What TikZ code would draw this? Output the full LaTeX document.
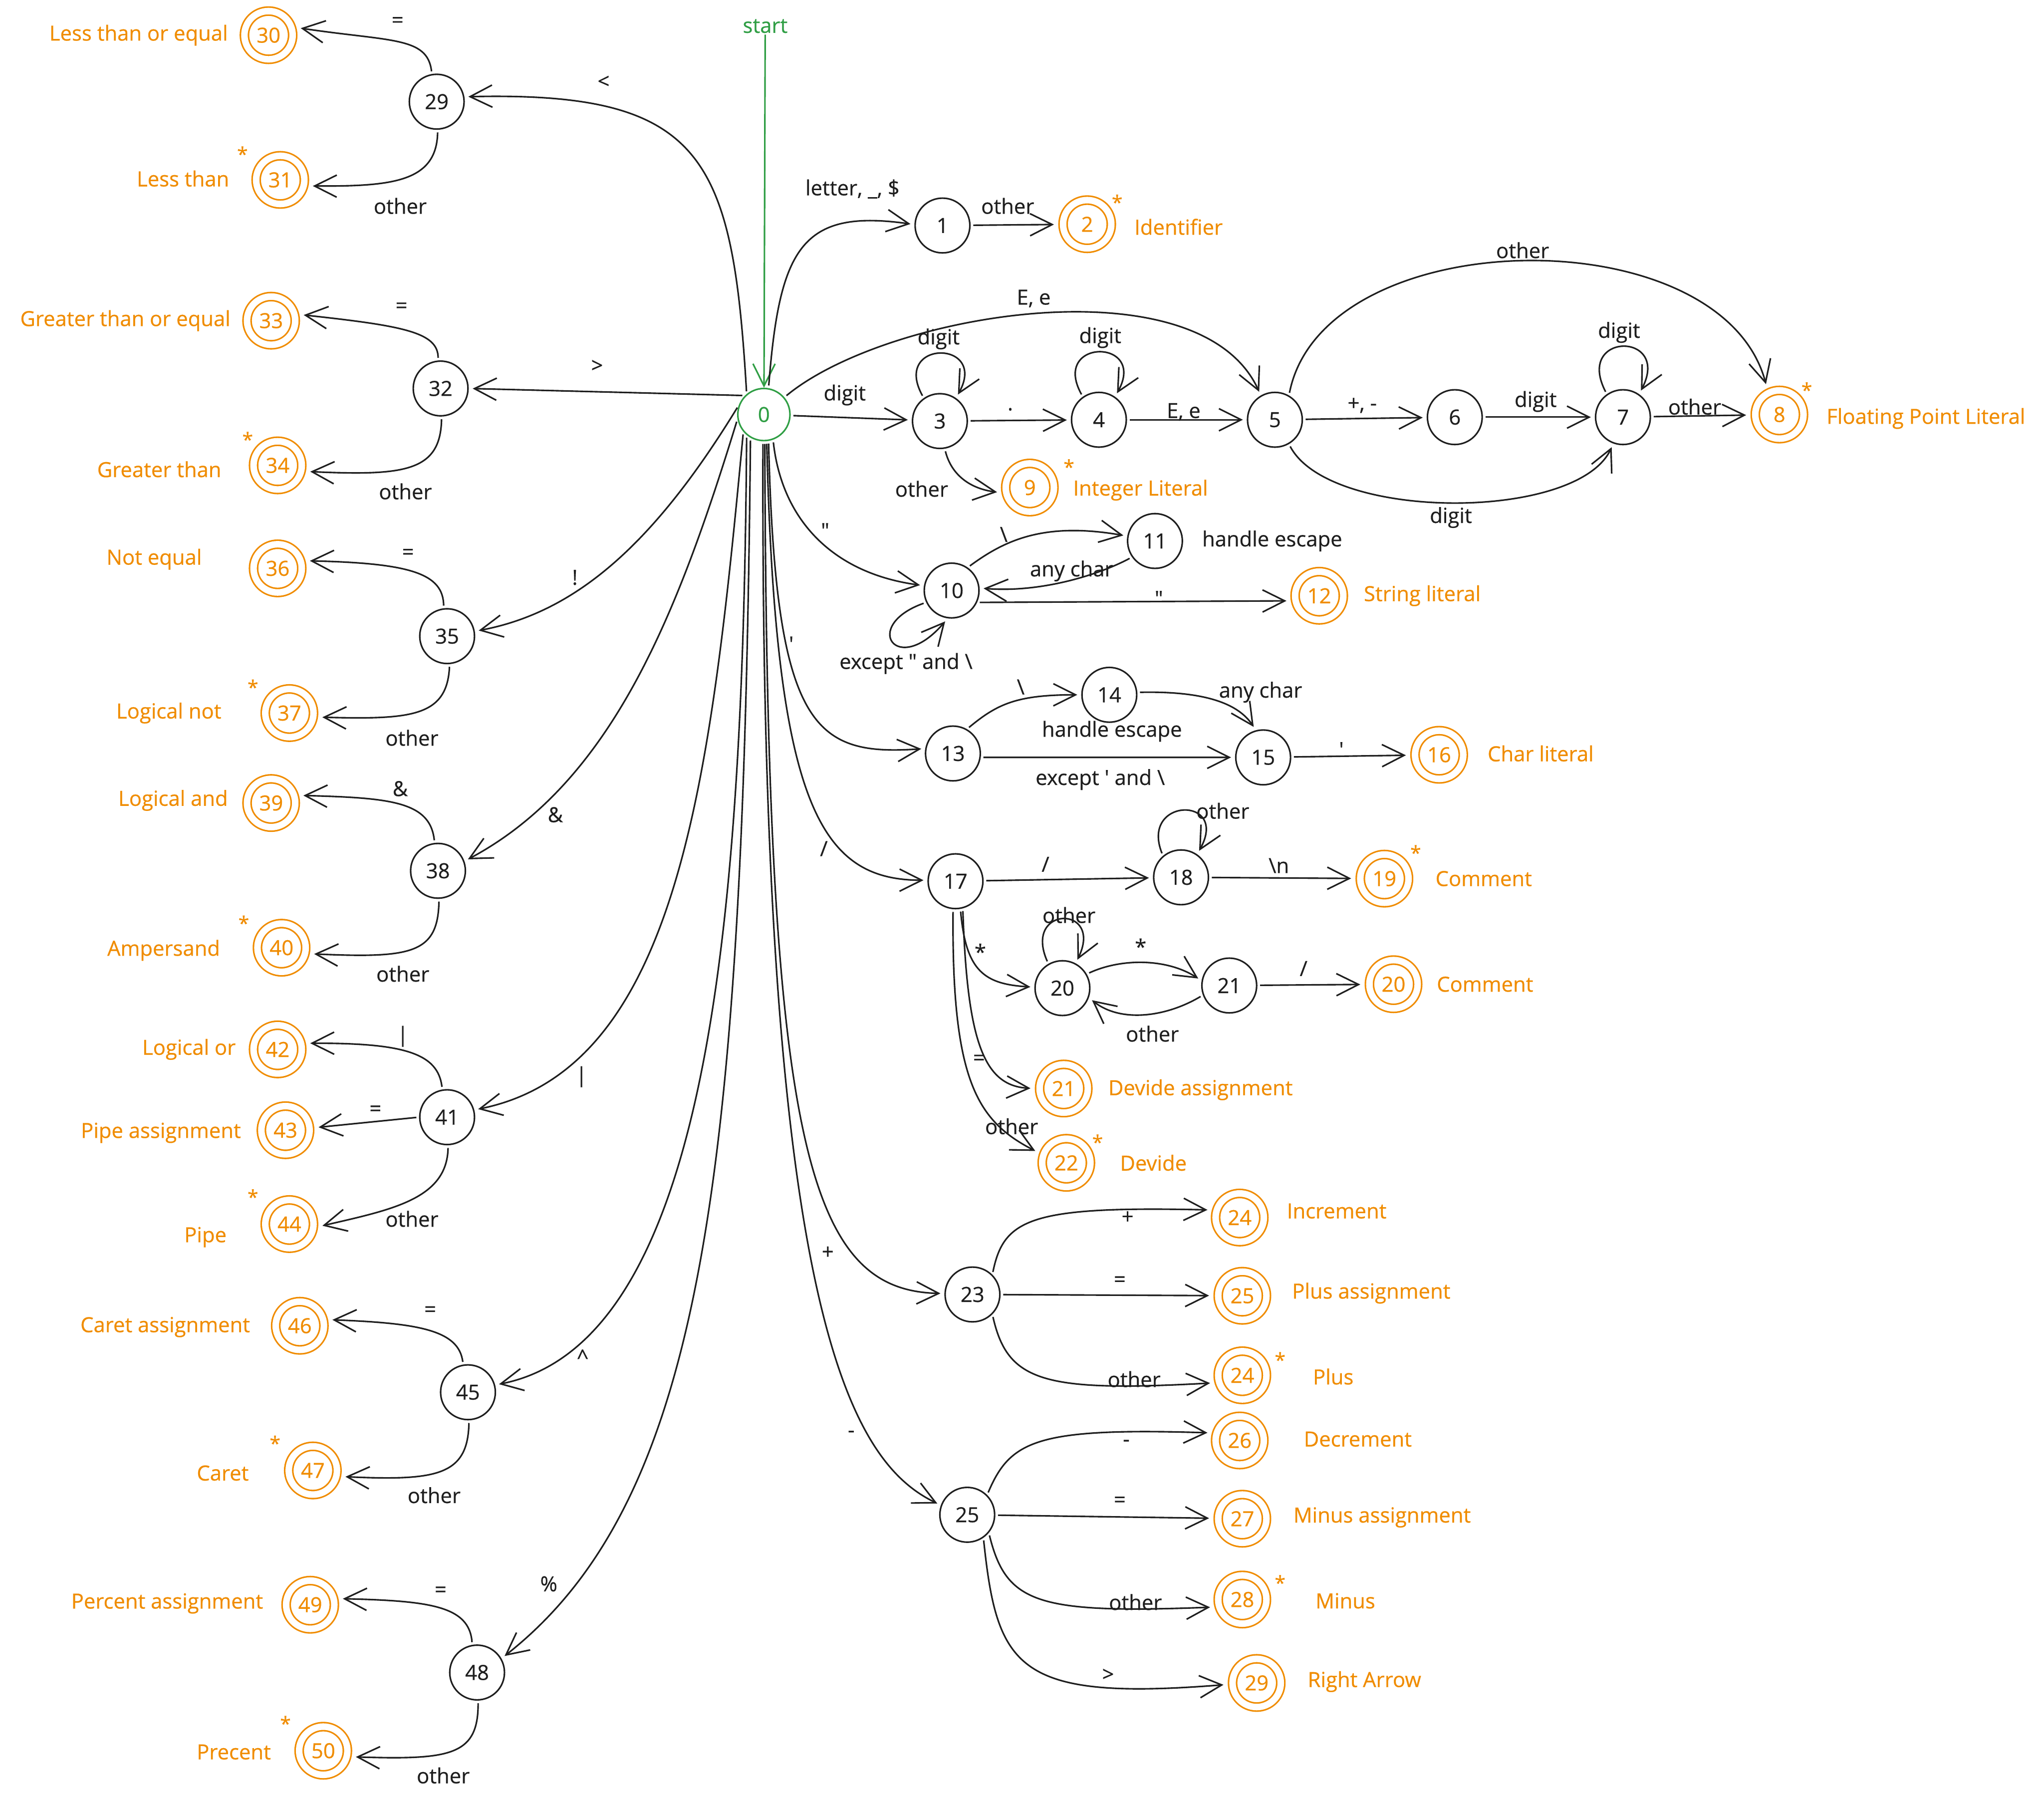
\documentclass[tikz,border=0pt]{standalone}
\usepackage{fontspec}
\newfontfamily\lblfont[FakeBold=0.5]{Open Sans}
\usetikzlibrary{arrows.meta}
\definecolor{ink}{HTML}{1E1E1E}
\definecolor{orng}{HTML}{F08C00}
\definecolor{grn}{HTML}{2F9E44}
\newcommand\fsz{\lblfont\fontsize{16}{18}\selectfont}
\tikzset{
  st/.style={circle, draw=ink, line width=1.2pt, minimum size=42pt, inner sep=0pt, text=ink, font=\fsz},
  acc/.style={circle, draw=orng, double=white, double distance=5pt, line width=1.2pt, minimum size=37pt, inner sep=0pt, outer sep=4pt, text=orng, font=\fsz},
  arr/.style={draw=ink, line width=1.2pt, -{Straight Barb[length=17pt,width=17pt]}, shorten >=3pt, shorten <=2pt},
  garr/.style={draw=grn, line width=1.2pt, -{Straight Barb[length=17pt,width=17pt]}},
  lb/.style={text=ink, font=\fsz, inner sep=1pt},
  ol/.style={text=orng, font=\fsz, inner sep=1pt},
  sr/.style={text=orng, font=\lblfont\fontsize{15}{16}\selectfont, inner sep=0pt},
}
\begin{document}
\begin{tikzpicture}[x=1pt,y=1pt]
\useasboundingbox (0,0) rectangle (1568,-1380);
\fill[white] (0,0) rectangle (1568,-1380);

% ---------- states ----------
\node[st, draw=grn, text=grn, minimum size=40pt] (n0) at (586,-318) {0};
\node[text=grn, font=\fsz, inner sep=1pt] (start) at (587,-20) {start};

\node[st] (n29) at (335,-78) {29};
\node[acc] (a30) at (206,-27) {30};
\node[acc] (a31) at (215,-138) {31};
\node[st] (n32) at (338,-298) {32};
\node[acc] (a33) at (208,-246) {33};
\node[acc] (a34) at (213,-357) {34};
\node[st] (n35) at (343,-488) {35};
\node[acc] (a36) at (213,-436) {36};
\node[acc] (a37) at (222,-547) {37};
\node[st] (n38) at (336,-668) {38};
\node[acc] (a39) at (208,-616) {39};
\node[acc] (a40) at (216,-727) {40};
\node[st] (n41) at (343,-857) {41};
\node[acc] (a42) at (213,-805) {42};
\node[acc] (a43) at (219,-867) {43};
\node[acc] (a44) at (222,-939) {44};
\node[st] (n45) at (359,-1068) {45};
\node[acc] (a46) at (230,-1017) {46};
\node[acc] (a47) at (240,-1128) {47};
\node[st] (n48) at (366,-1283) {48};
\node[acc] (a49) at (238,-1231) {49};
\node[acc] (a50) at (248,-1343) {50};

\node[st] (n1) at (723,-173) {1};
\node[acc] (a2) at (834,-172) {2};
\node[st] (n3) at (721,-323) {3};
\node[st] (n4) at (843,-322) {4};
\node[st] (n5) at (978,-322) {5};
\node[st] (n6) at (1116,-320) {6};
\node[st] (n7) at (1245,-320) {7};
\node[acc] (a8) at (1365,-318) {8};
\node[acc] (a9) at (790,-374) {9};
\node[st] (n10) at (730,-453) {10};
\node[st] (n11) at (886,-415) {11};
\node[acc] (a12) at (1012,-457) {12};
\node[st] (n13) at (731,-578) {13};
\node[st] (n14) at (851,-533) {14};
\node[st] (n15) at (969,-581) {15};
\node[acc] (a16) at (1104,-579) {16};
\node[st] (n17) at (733,-676) {17};
\node[st] (n18) at (906,-673) {18};
\node[acc] (a19) at (1062,-674) {19};
\node[st] (n20) at (815,-758) {20};
\node[st] (n21) at (943,-756) {21};
\node[acc] (a20b) at (1069,-755) {20};
\node[acc] (a21) at (816,-835) {21};
\node[acc] (a22) at (818,-892) {22};
\node[st] (n23) at (746,-993) {23};
\node[acc] (a24) at (951,-934) {24};
\node[acc] (a25) at (953,-994) {25};
\node[acc] (a24b) at (953,-1055) {24};
\node[st] (n25) at (742,-1162) {25};
\node[acc] (a26) at (951,-1105) {26};
\node[acc] (a27) at (953,-1165) {27};
\node[acc] (a28) at (953,-1227) {28};
\node[acc] (a29) at (964,-1291) {29};

% ---------- stars ----------
\node[sr] (s31) at (186,-118) {*};
\node[sr] (s34) at (190,-337) {*};
\node[sr] (s37) at (194,-527) {*};
\node[sr] (s40) at (187,-708) {*};
\node[sr] (s44) at (194,-918) {*};
\node[sr] (s47) at (211,-1107) {*};
\node[sr] (s50) at (219,-1322) {*};
\node[sr] (s2) at (857,-155) {*};
\node[sr] (s9) at (820,-358) {*};
\node[sr] (s8) at (1386,-299) {*};
\node[sr] (s19) at (1086,-654) {*};
\node[sr] (s22) at (842,-876) {*};
\node[sr] (s24b) at (982,-1043) {*};
\node[sr] (s28) at (982,-1214) {*};

% ---------- orange names ----------
\node[ol, anchor=east] (t30) at (176,-27) {Less than or equal};
\node[ol, anchor=east] (t31) at (177,-137) {Less than};
\node[ol, anchor=east] (t33) at (178,-246) {Greater than or equal};
\node[ol, anchor=east] (t34) at (171,-360) {Greater than};
\node[ol, anchor=east] (t36) at (156,-429) {Not equal};
\node[ol, anchor=east] (t37) at (171,-547) {Logical not};
\node[ol, anchor=east] (t39) at (176,-614) {Logical and};
\node[ol, anchor=east] (t40) at (170,-729) {Ampersand};
\node[ol, anchor=east] (t42) at (182,-805) {Logical or};
\node[ol, anchor=east] (t43) at (186,-869) {Pipe assignment};
\node[ol, anchor=east] (t44) at (175,-949) {Pipe};
\node[ol, anchor=east] (t46) at (193,-1018) {Caret assignment};
\node[ol, anchor=east] (t47) at (192,-1130) {Caret};
\node[ol, anchor=east] (t49) at (203,-1230) {Percent assignment};
\node[ol, anchor=east] (t50) at (209,-1344) {Precent};

\node[ol, anchor=west] (t2) at (869,-174) {Identifier};
\node[ol, anchor=west] (t8) at (1400,-321) {Floating Point Literal};
\node[ol, anchor=west] (t9) at (822,-376) {Integer Literal};
\node[ol, anchor=west] (t12) at (1045,-457) {String literal};
\node[ol, anchor=west] (t16) at (1140,-578) {Char literal};
\node[ol, anchor=west] (t19) at (1100,-674) {Comment};
\node[ol, anchor=west] (t20b) at (1101,-755) {Comment};
\node[ol, anchor=west] (t21) at (849,-836) {Devide assignment};
\node[ol, anchor=west] (t22) at (858,-892) {Devide};
\node[ol, anchor=west] (t24) at (986,-929) {Increment};
\node[ol, anchor=west] (t25) at (990,-992) {Plus assignment};
\node[ol, anchor=west] (t24b) at (1006,-1056) {Plus};
\node[ol, anchor=west] (t26) at (999,-1104) {Decrement};
\node[ol, anchor=west] (t27) at (991,-1164) {Minus assignment};
\node[ol, anchor=west] (t28) at (1008,-1228) {Minus};
\node[ol, anchor=west] (t29) at (1002,-1290) {Right Arrow};

% ---------- start ----------
\draw[garr] (start) -- (n0);

% ---------- left edges from 0 ----------
\draw[arr] (n0.130) .. controls (562,-120) and (540,-70) .. (n29.10);
\draw[arr] (n0.135) -- (n32.east);
\draw[arr] (n0.160) .. controls (500,-420) and (440,-470) .. (n35.10);
\draw[arr] (n0.190) .. controls (520,-470) and (470,-600) .. (n38.20);
\draw[arr] (n0.220) .. controls (545,-600) and (520,-820) .. (n41.15);
\draw[arr] (n0.230) .. controls (570,-700) and (545,-1030) .. (n45.15);
\draw[arr] (n0.240) .. controls (570,-900) and (540,-1150) .. (n48.30);

\node[lb] (l0_29) at (463,-63) {<};
\node[lb] (l0_32) at (458,-281) {>};
\node[lb] (l0_35) at (441,-443) {!};
\node[lb] (l0_38) at (426,-625) {\&};
\node[lb] (l0_41) at (446,-826) {|};
\node[lb] (l0_45) at (447,-1041) {\textasciicircum};
\node[lb] (l0_48) at (421,-1215) {\%};

% ---------- left groups ----------
\draw[arr] (n29.100) .. controls (328,-28) and (300,-32) .. (a30.15);
\draw[arr] (n29.-88) .. controls (335,-140) and (300,-143) .. (a31.-12);
\node[lb] (l29a) at (305,-17) {=};
\node[lb] (l29b) at (307,-158) {other};

\draw[arr] (n32.95) .. controls (336,-255) and (310,-250) .. (a33.12);
\draw[arr] (n32.-88) .. controls (338,-362) and (310,-365) .. (a34.-12);
\node[lb] (l32a) at (308,-236) {=};
\node[lb] (l32b) at (311,-377) {other};

\draw[arr] (n35.97) .. controls (340,-440) and (315,-432) .. (a36.15);
\draw[arr] (n35.-85) .. controls (343,-550) and (315,-552) .. (a37.-8);
\node[lb] (l35a) at (313,-425) {=};
\node[lb] (l35b) at (316,-566) {other};

\draw[arr] (n38.97) .. controls (330,-615) and (300,-612) .. (a39.15);
\draw[arr] (n38.-88) .. controls (336,-732) and (315,-735) .. (a40.-12);
\node[lb] (l38a) at (307,-605) {\&};
\node[lb] (l38b) at (309,-747) {other};

\draw[arr] (n41.100) .. controls (336,-808) and (310,-800) .. (a42.12);
\draw[arr] (n41.180) -- (a43.5);
\draw[arr] (n41.-88) .. controls (343,-920) and (300,-928) .. (a44.-5);
\node[lb] (l41a) at (309,-795) {|};
\node[lb] (l41b) at (288,-852) {=};
\node[lb] (l41c) at (316,-935) {other};

\draw[arr] (n45.100) .. controls (352,-1020) and (320,-1015) .. (a46.12);
\draw[arr] (n45.-88) .. controls (359,-1132) and (335,-1136) .. (a47.-12);
\node[lb] (l45a) at (330,-1006) {=};
\node[lb] (l45b) at (333,-1147) {other};

\draw[arr] (n48.100) .. controls (360,-1232) and (330,-1228) .. (a49.12);
\draw[arr] (n48.-88) .. controls (367,-1347) and (345,-1350) .. (a50.-12);
\node[lb] (l48a) at (338,-1221) {=};
\node[lb] (l48b) at (340,-1362) {other};

% ---------- identifiers & numbers ----------
\draw[arr] (n0.80) .. controls (598,-190) and (615,-160) .. (n1.178);
\draw[arr] (n1) -- (a2);
\node[lb] (l0_1) at (654,-145) {letter, \_, \$};
\node[lb] (l1_2) at (773,-158) {other};

\draw[arr] (n0.40) .. controls (680,-240) and (920,-200) .. (n5.120);
\node[lb] (l0_5) at (793,-229) {E, e};
\draw[arr] (n0) -- (n3);
\node[lb] (l0_3) at (648,-303) {digit};
\draw[arr] (n3.125) .. controls +(-25,45) and +(25,45) .. (n3.55);
\node[lb] (l3) at (720,-260) {digit};
\draw[arr] (n3) -- (n4);
\node[lb] (l3_4) at (775,-314) {.};
\draw[arr] (n4.125) .. controls +(-25,45) and +(25,45) .. (n4.55);
\node[lb] (l4) at (844,-259) {digit};
\draw[arr] (n4) -- (n5);
\node[lb] (l4_5) at (908,-316) {E, e};
\draw[arr] (n5) -- (n6);
\node[lb] (l5_6) at (1045,-311) {+, -};
\draw[arr] (n6) -- (n7);
\node[lb] (l6_7) at (1178,-308) {digit};
\draw[arr] (n7.125) .. controls +(-25,48) and +(25,48) .. (n7.55);
\node[lb] (l7) at (1242,-255) {digit};
\draw[arr] (n7) -- (a8);
\node[lb] (l7_8) at (1300,-312) {other};
\draw[arr] (n5.60) .. controls (1015,-170) and (1320,-165) .. (a8.115);
\node[lb] (l5_8) at (1168,-192) {other};
\draw[arr] (n5.-60) .. controls (1020,-400) and (1210,-400) .. (n7.-110);
\node[lb] (l5_7) at (1113,-397) {digit};
\draw[arr] (n3.-80) .. controls (730,-365) and (745,-375) .. (a9.190);
\node[lb] (l3_9) at (707,-375) {other};

% ---------- strings ----------
\draw[arr] (n0.-70) .. controls (600,-400) and (640,-440) .. (n10.170);
\node[lb] (l0_10) at (633,-407) {"};
\draw[arr] (n10.55) .. controls (770,-415) and (800,-400) .. (n11.170);
\node[lb] (l10_11) at (770,-410) {\textbackslash};
\draw[arr] (n11.215) .. controls (845,-440) and (800,-455) .. (n10.5);
\node[lb] (l11_10) at (822,-438) {any char};
\node[lb, anchor=west] (h11) at (921,-415) {handle escape};
\draw[arr] (n10.-25) -- (a12.190);
\node[lb] (l10_12) at (889,-459) {"};
\draw[arr] (n10.205) .. controls (660,-480) and (688,-520) .. (n10.262);
\node[lb] (l10) at (695,-509) {except " and \textbackslash};

% ---------- chars ----------
\draw[arr] (n0.-80) .. controls (595,-560) and (625,-580) .. (n13.170);
\node[lb] (l0_13) at (607,-494) {'};
\draw[arr] (n13.60) .. controls (765,-540) and (780,-533) .. (n14.180);
\node[lb] (l13_14) at (783,-527) {\textbackslash};
\node[lb] (h14) at (853,-561) {handle escape};
\draw[arr] (n14.5) .. controls (925,-530) and (950,-540) .. (n15.105);
\node[lb] (l14_15) at (967,-531) {any char};
\draw[arr] (n13.-8) -- (n15.180);
\node[lb] (l13_15) at (844,-598) {except ' and \textbackslash};
\draw[arr] (n15) -- (a16);
\node[lb] (l15_16) at (1029,-575) {'};

% ---------- comments and divide ----------
\draw[arr] (n0.-84) .. controls (595,-620) and (630,-675) .. (n17.178);
\node[lb] (l0_17) at (632,-651) {/};
\draw[arr] (n17) -- (n18);
\node[lb] (l17_18) at (802,-663) {/};
\draw[arr] (n18.130) .. controls +(-18,45) and +(25,45) .. (n18.55);
\node[lb] (l18) at (938,-622) {other};
\draw[arr] (n18) -- (a19);
\node[lb] (l18_19) at (981,-664) {\textbackslash n};
\draw[arr] (n17.-80) .. controls (741,-745) and (755,-755) .. (n20.178);
\node[lb] (l17_20) at (752,-730) {*};
\draw[arr] (n20.120) .. controls +(-20,45) and +(22,45) .. (n20.62);
\node[lb] (l20) at (820,-702) {other};
\draw[arr] (n20.30) .. controls (860,-735) and (895,-735) .. (n21.170);
\node[lb] (l20_21) at (875,-726) {*};
\draw[arr] (n21.200) .. controls (895,-780) and (860,-785) .. (n20.-20);
\node[lb] (l21_20) at (884,-793) {other};
\draw[arr] (n21) -- (a20b);
\node[lb] (l21_20b) at (1000,-743) {/};
\draw[arr] (n17.-75) .. controls (742,-800) and (755,-833) .. (a21.180);
\node[lb] (l17_21) at (751,-813) {=};
\draw[arr] (n17.-95) .. controls (730,-830) and (750,-860) .. (a22.160);
\node[lb] (l17_22) at (776,-864) {other};

% ---------- plus ----------
\draw[arr] (n0.-88) .. controls (588,-880) and (620,-990) .. (n23.178);
\node[lb] (l0_23) at (635,-961) {+};
\draw[arr] (n23.45) .. controls (770,-935) and (790,-925) .. (a24.165);
\node[lb] (l23_24) at (865,-934) {+};
\draw[arr] (n23) -- (a25);
\node[lb] (l23_25) at (859,-983) {=};
\draw[arr] (n23.-45) .. controls (773,-1060) and (800,-1068) .. (a24b.195);
\node[lb] (l23_24b) at (870,-1058) {other};

% ---------- minus ----------
\draw[arr] (n0.-92) .. controls (583,-1000) and (650,-1120) .. (n25.160);
\node[lb] (l0_25) at (653,-1100) {-};
\draw[arr] (n25.45) .. controls (775,-1105) and (795,-1095) .. (a26.165);
\node[lb] (l25_26) at (864,-1107) {-};
\draw[arr] (n25) -- (a27);
\node[lb] (l25_27) at (859,-1152) {=};
\draw[arr] (n25.-40) .. controls (772,-1230) and (795,-1238) .. (a28.195);
\node[lb] (l25_28) at (871,-1229) {other};
\draw[arr] (n25.-55) .. controls (765,-1280) and (780,-1305) .. (a29.183);
\node[lb] (l25_29) at (850,-1285) {>};

\end{tikzpicture}
\end{document}
